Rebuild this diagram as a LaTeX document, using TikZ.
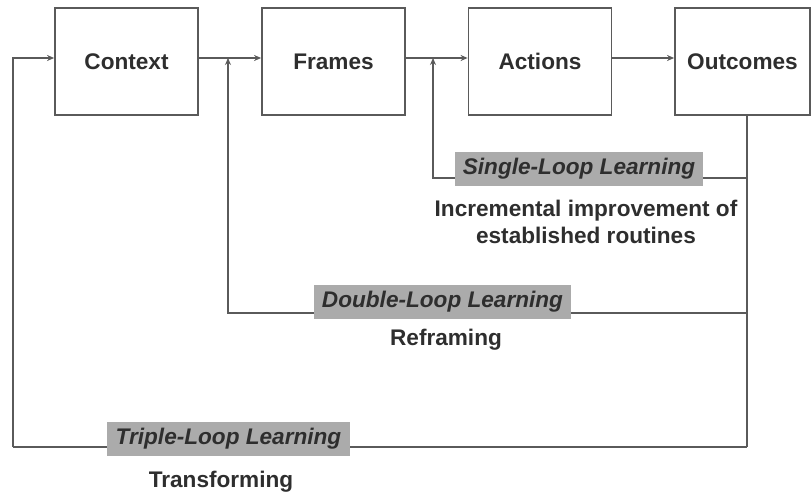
\documentclass[tikz,border=0pt]{standalone}
\usepackage{fontspec}
\setmainfont{Liberation Sans}
\usetikzlibrary{arrows.meta,calc}
\definecolor{lnc}{HTML}{5A5A5A}
\definecolor{txc}{HTML}{2E2E2E}
\definecolor{lab}{HTML}{ABABAB}
\begin{document}
\begin{tikzpicture}[x=1pt,y=-1pt,
  box/.style={draw=lnc,line width=1.8pt,minimum width=143pt,minimum height=107pt,inner sep=0pt,
    font=\fontsize{22.6}{27}\selectfont\bfseries,text=txc},
  conn/.style={draw=lnc,line width=1.8pt},
  arr/.style={conn,-{Stealth[length=7pt,width=6pt]}},
  looplab/.style={fill=lab,inner sep=0pt,minimum height=34pt,text=txc,
    font=\fontsize{22.6}{27}\selectfont\bfseries\itshape},
  note/.style={text=txc,align=center,font=\fontsize{22.6}{27}\selectfont\bfseries}]
\useasboundingbox (0,0) rectangle (812,495);
\node[box] (ctx) at (126.5,61.5) {Context};
\node[box] (frm) at (333.5,61.5) {Frames};
\node[box] (act) at (540,61.5) {Actions};
\node[box,minimum width=135pt] (out) at (742.5,61.5) {Outcomes};
% main chain
\coordinate (tl) at (13,58);
\coordinate (tb) at (13,447);
\coordinate (fb) at (747,115);
\coordinate (sR) at (747,178);
\coordinate (sL) at (433,178);
\coordinate (sT) at (433,58);
\coordinate (dR) at (747,313);
\coordinate (dL) at (228,313);
\coordinate (dT) at (228,58);
\coordinate (tR) at (747,447);
\draw[arr] (ctx.east |- tl) -- (frm.west |- tl);
\draw[arr] (frm.east |- tl) -- (act.west |- tl);
\draw[arr] (act.east |- tl) -- (out.west |- tl);
\draw[arr] (tb) -- (tl) -- (ctx.west |- tl);
% feedback trunk
\draw[conn] (fb) -- (tR);
\draw[arr] (sR) -- (sL) -- (sT);
\draw[arr] (dR) -- (dL) -- (dT);
\draw[conn] (tR) -- (tb);
% labels
\node[looplab,minimum width=248pt] (sl) at (579,169) {Single-Loop Learning};
\node[note] (sn) at (586,222) {Incremental improvement of\\established routines};
\node[looplab,minimum width=257pt] (dl) at (442.5,302) {Double-Loop Learning};
\node[note] (dn) at (446,340) {Reframing};
\node[looplab,minimum width=243pt] (tlb) at (228.5,439) {Triple-Loop Learning};
\node[note] (tn) at (221,482) {Transforming};
\end{tikzpicture}
\end{document}
